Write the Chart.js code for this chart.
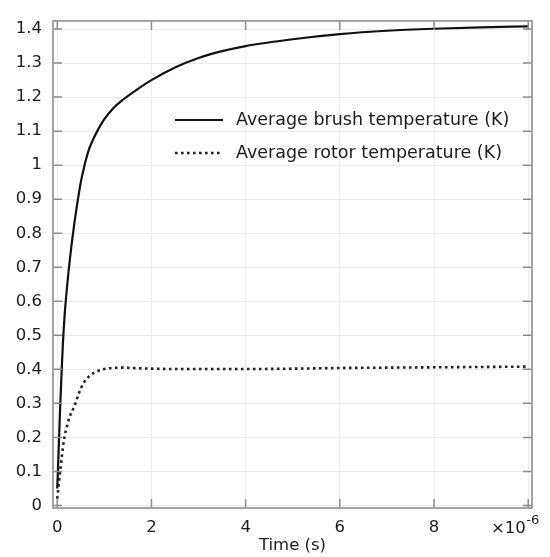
<!DOCTYPE html>
<html lang="en">
<head>
  <meta charset="UTF-8">
  <title>Average temperatures</title>
  <style>
    html, body { margin: 0; padding: 0; background: #fff; }
    #wrap { width: 550px; height: 557px; }
  </style>
  <script src="https://cdn.jsdelivr.net/npm/chart.js"></script>
</head>
<body>
  <div id="wrap"><canvas id="tempChart" width="550" height="557"></canvas></div>

  <script>
    // time in units of 1e-6 s
    const brushTime = [0, 0.03, 0.06, 0.09, 0.12, 0.16, 0.21, 0.27, 0.34, 0.44, 0.50, 0.58, 0.67, 0.76, 0.85, 1.0, 1.2, 1.4, 1.7, 2.0, 2.5, 3.0, 3.5, 4.0, 5.0, 6.0, 7.0, 8.0, 9.0, 10.0];
    const brushTemp = [0.05, 0.16, 0.28, 0.385, 0.475, 0.565, 0.645, 0.725, 0.805, 0.90, 0.95, 1.00, 1.045, 1.075, 1.10, 1.135, 1.169, 1.193, 1.223, 1.25, 1.287, 1.315, 1.335, 1.35, 1.37, 1.385, 1.395, 1.401, 1.405, 1.408];

    const rotorTime = [0, 0.03, 0.07, 0.14, 0.22, 0.29, 0.36, 0.46, 0.56, 0.68, 0.82, 0.97, 1.36, 1.75, 2.5, 3.0, 4.0, 5.0, 6.0, 7.0, 8.0, 9.0, 10.0];
    const rotorTemp = [0.02, 0.06, 0.11, 0.19, 0.24, 0.27, 0.29, 0.33, 0.36, 0.38, 0.393, 0.40, 0.405, 0.403, 0.401, 0.401, 0.401, 0.402, 0.404, 0.405, 0.406, 0.407, 0.408];

    const xTicks = [0, 2, 4, 6, 8, 10];
    const yTicks = [0, 0.1, 0.2, 0.3, 0.4, 0.5, 0.6, 0.7, 0.8, 0.9, 1, 1.1, 1.2, 1.3, 1.4];

    const seriesNames = ['Average brush temperature (K)', 'Average rotor temperature (K)'];

    const FONT = 'DejaVu Sans';
    const TEXT = '#1c1c1c';

    const toPoints = (xs, ys) => xs.map((x, i) => ({ x: x, y: ys[i] }));

    // frame, inward ticks, legend and the x multiplier
    const decor = {
      id: 'decor',
      afterDraw(chart) {
        const c = chart.ctx;
        const a = chart.chartArea;
        const sx = chart.scales.x, sy = chart.scales.y;
        const tl = 9;

        c.save();
        c.strokeStyle = '#8c8c8c';
        c.lineWidth = 1.5;
        xTicks.forEach(v => {
          const px = sx.getPixelForValue(v);
          c.beginPath();
          c.moveTo(px, a.bottom); c.lineTo(px, a.bottom - tl);
          c.moveTo(px, a.top); c.lineTo(px, a.top + tl);
          c.stroke();
        });
        yTicks.forEach(v => {
          const py = sy.getPixelForValue(v);
          c.beginPath();
          c.moveTo(a.left, py); c.lineTo(a.left + tl, py);
          c.moveTo(a.right, py); c.lineTo(a.right - tl, py);
          c.stroke();
        });
        c.strokeStyle = '#9a9a9a';
        c.lineWidth = 1.8;
        c.strokeRect(a.left, a.top, a.right - a.left, a.bottom - a.top);

        // legend
        const ds = chart.data.datasets;
        const lx = 175, rows = [120, 153];
        c.font = '17.5px "' + FONT + '"';
        c.textBaseline = 'middle';
        c.textAlign = 'left';
        ds.forEach((d, i) => {
          c.strokeStyle = d.borderColor;
          c.lineWidth = d.borderWidth;
          c.setLineDash(d.borderDash || []);
          c.beginPath();
          c.moveTo(lx, rows[i]); c.lineTo(lx + 48, rows[i]);
          c.stroke();
          c.setLineDash([]);
          c.fillStyle = TEXT;
          c.fillText(d.label, lx + 61, rows[i]);
        });

        // ×10^-6 below the right end of the x axis
        c.fillStyle = TEXT;
        c.textBaseline = 'alphabetic';
        c.font = '16.5px "' + FONT + '"';
        const base = '\u00d710';
        const bx = 491;
        c.fillText(base, bx, 533);
        const w = c.measureText(base).width;
        c.font = '13px "' + FONT + '"';
        c.fillText('-6', bx + w + 0.5, 524);
        c.restore();
      }
    };

    const ctx = document.getElementById('tempChart').getContext('2d');
    const tempChart = new Chart(ctx, {
      type: 'line',
      data: {
        datasets: [{
          label: seriesNames[0],
          data: toPoints(brushTime, brushTemp),
          borderColor: '#111',
          borderWidth: 2.2,
          pointRadius: 0,
          cubicInterpolationMode: 'monotone',
          fill: false
        }, {
          label: seriesNames[1],
          data: toPoints(rotorTime, rotorTemp),
          borderColor: '#222',
          borderWidth: 2.6,
          borderDash: [2.6, 3.4],
          borderCapStyle: 'butt',
          pointRadius: 0,
          cubicInterpolationMode: 'monotone',
          fill: false
        }]
      },
      options: {
        responsive: false,
        animation: false,
        layout: { padding: { top: 9, right: 18, left: 0, bottom: 0 } },
        plugins: {
          legend: { display: false },
          tooltip: { enabled: false }
        },
        scales: {
          x: {
            type: 'linear',
            min: -0.09,
            max: 10.08,
            afterBuildTicks: s => { s.ticks = xTicks.map(v => ({ value: v })); },
            afterFit: s => { s.height = 49; },
            grid: { color: '#ebebeb', lineWidth: 1, drawTicks: false },
            border: { display: false },
            ticks: {
              padding: 10,
              maxRotation: 0,
              color: TEXT,
              font: { family: FONT, size: 16.5 },
              callback: v => (v === 10 ? '' : String(v))
            },
            title: {
              display: true,
              text: 'Time (s)',
              color: TEXT,
              font: { family: FONT, size: 16.5 },
              padding: { top: 0, bottom: 1 }
            }
          },
          y: {
            min: -0.0075,
            max: 1.424,
            afterBuildTicks: s => { s.ticks = yTicks.map(v => ({ value: v })); },
            afterFit: s => { s.width = 53; },
            grid: { color: '#ebebeb', lineWidth: 1, drawTicks: false },
            border: { display: false },
            ticks: {
              padding: 11,
              color: TEXT,
              font: { family: FONT, size: 16.5 },
              callback: v => String(Math.round(v * 10) / 10)
            }
          }
        }
      },
      plugins: [decor]
    });
  </script>
</body>
</html>
